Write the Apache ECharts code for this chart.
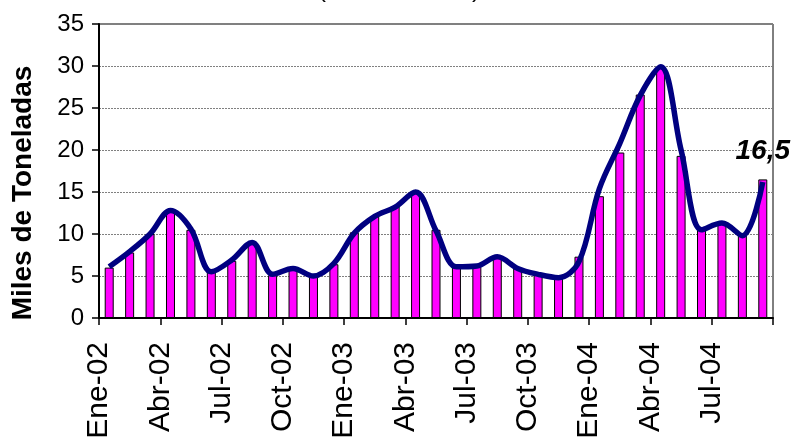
<!DOCTYPE html>
<html>
<head>
<meta charset="utf-8">
<script src="https://cdn.jsdelivr.net/npm/echarts@6/dist/echarts.min.js"></script>
<style>
  html, body { margin: 0; padding: 0; background: #fff; }
  #chart { width: 793px; height: 444px; }
</style>
</head>
<body>
<div id="chart"></div>
<script>
// meses (una barra por mes)
var months = [
  'Ene-02','Feb-02','Mar-02','Abr-02','May-02','Jun-02','Jul-02','Ago-02','Sep-02','Oct-02','Nov-02','Dic-02',
  'Ene-03','Feb-03','Mar-03','Abr-03','May-03','Jun-03','Jul-03','Ago-03','Sep-03','Oct-03','Nov-03','Dic-03',
  'Ene-04','Feb-04','Mar-04','Abr-04','May-04','Jun-04','Jul-04','Ago-04','Sep-04'
];
// barras (miles de toneladas)
var barValues = [
  6.0, 7.8, 10.0, 12.7, 10.5, 5.5, 6.8, 9.0, 5.1, 5.9, 4.9, 6.4,
  10.2, 12.1, 13.3, 15.0, 10.5, 6.3, 6.1, 7.3, 5.9, 5.3, 4.9, 7.3,
  14.5, 19.7, 26.6, 29.8, 19.3, 10.7, 11.5, 9.9, 16.5
];
// linea suavizada
var lineValues = [
  6.1, 7.9, 10.0, 12.8, 10.6, 5.5, 6.9, 9.0, 5.2, 5.9, 5.0, 6.5,
  10.1, 12.1, 13.2, 15.0, 10.4, 6.1, 6.2, 7.3, 5.9, 5.2, 4.8, 6.7,
  15.4, 20.8, 26.5, 29.9, 20.0, 10.5, 11.3, 9.8, 16.2
];
// etiquetas del eje x, cada 3 meses
var tickStep = 3;

var font = 'Liberation Sans, Arial, sans-serif';
var chart = echarts.init(document.getElementById('chart'));

var last = barValues.length - 1;
var barData = barValues.map(function (v, i) {
  if (i !== last) return v;
  return {
    value: v,
    label: {
      show: true,
      position: 'top',
      distance: 14,
      fontFamily: font,
      fontSize: 28,
      fontWeight: 'bold',
      fontStyle: 'italic',
      color: '#000',
      formatter: function (p) { return p.value.toFixed(1).replace('.', ','); }
    }
  };
});

var option = {
  animation: false,
  backgroundColor: '#fff',
  graphic: [
    { type: 'text', left: 318, top: -22, style: { text: '(', font: '24px ' + font, fill: '#000' } },
    { type: 'text', left: 472, top: -22, style: { text: ')', font: '24px ' + font, fill: '#000' } }
  ],
  grid: {
    left: 99,
    right: 20,
    top: 24,
    bottom: 126,
    show: true,
    borderColor: '#000',
    borderWidth: 1
  },
  xAxis: [
    {
      type: 'category',
      data: months,
      boundaryGap: true,
      axisLine: { show: true, lineStyle: { color: '#000', width: 2 } },
      axisTick: { show: false },
      axisLabel: { show: false },
      splitLine: { show: false }
    },
    {
      type: 'value',
      position: 'bottom',
      min: 0,
      max: months.length,
      interval: tickStep,
      axisLine: { show: false },
      axisTick: { show: true, length: 7, lineStyle: { color: '#000', width: 1.5 } },
      splitLine: { show: false },
      axisLabel: {
        rotate: 90,
        margin: 24,
        fontFamily: font,
        fontSize: 30,
        color: '#000',
        formatter: function (v) { return months[v] || ''; }
      }
    }
  ],
  yAxis: {
    type: 'value',
    min: 0,
    max: 35,
    interval: 5,
    name: 'Miles de Toneladas',
    nameLocation: 'middle',
    nameGap: 62,
    nameTextStyle: {
      fontFamily: font,
      fontSize: 28,
      fontWeight: 'bold',
      color: '#000',
      padding: [0, 44, 0, 0]
    },
    axisLine: { show: true, lineStyle: { color: '#000', width: 2 } },
    axisTick: { show: true, length: 7, lineStyle: { color: '#000', width: 1.5 } },
    axisLabel: { margin: 15, fontFamily: font, fontSize: 24, color: '#000' },
    splitLine: { show: true, lineStyle: { color: '#808080', width: 1, type: [2, 1] } }
  },
  series: [
    {
      type: 'bar',
      xAxisIndex: 0,
      data: barData,
      barWidth: 9,
      itemStyle: { color: '#FF00FF', borderColor: '#000', borderWidth: 1 },
      z: 2
    },
    {
      type: 'line',
      xAxisIndex: 0,
      data: lineValues,
      smooth: 0.35,
      symbol: 'none',
      lineStyle: { color: '#000080', width: 5.5 },
      z: 3
    }
  ]
};

chart.setOption(option);
</script>
</body>
</html>
